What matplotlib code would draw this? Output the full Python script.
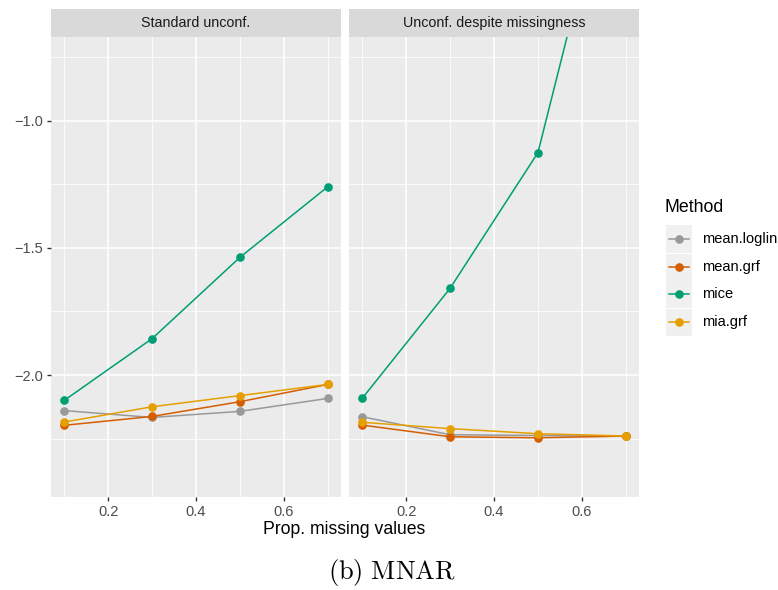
import matplotlib.pyplot as plt
import numpy as np

plt.rcParams['font.family'] = ['Liberation Sans', 'DejaVu Sans']
plt.rcParams['mathtext.fontset'] = 'cm'

# data
prop_missing = [0.1, 0.3, 0.5, 0.7]
methods = ['mean.loglin', 'mean.grf', 'mice', 'mia.grf']
colors = ['#999999', '#D55E00', '#009E73', '#E69F00']
panels = ['Standard unconf.', 'Unconf. despite missingness']

std_loglin = [-2.140, -2.167, -2.143, -2.092]
std_meangrf = [-2.198, -2.163, -2.105, -2.037]
std_mice = [-2.100, -1.857, -1.537, -1.259]
std_miagrf = [-2.185, -2.125, -2.081, -2.037]

unc_loglin = [-2.164, -2.235, -2.238, -2.240]
unc_meangrf = [-2.197, -2.243, -2.247, -2.240]
unc_mice = [-2.092, -1.659, -1.125, 0.25]
unc_miagrf = [-2.186, -2.211, -2.231, -2.240]

panel_data = [
    [std_loglin, std_meangrf, std_mice, std_miagrf],
    [unc_loglin, unc_meangrf, unc_mice, unc_miagrf],
]

W, H = 778, 590
fig = plt.figure(figsize=(W / 100, H / 100), dpi=100)


def rect(l, t, r, b):
    return [l / W, 1 - b / H, (r - l) / W, (b - t) / H]


lefts = [(51, 341), (349, 639)]
for i, (l, r) in enumerate(lefts):
    ax = fig.add_axes(rect(l, 37, r, 497))
    ax.set_facecolor('#EBEBEB')
    for s in ax.spines.values():
        s.set_visible(False)
    ax.set_xlim(0.07, 0.73)
    ax.set_ylim(-2.48, -0.67)
    ax.set_xticks([0.2, 0.4, 0.6])
    ax.set_xticks([0.1, 0.3, 0.5, 0.7], minor=True)
    ax.set_yticks([-2.0, -1.5, -1.0])
    ax.set_yticks([-2.25, -1.75, -1.25, -0.75], minor=True)
    ax.set_xticklabels(['0.2', '0.4', '0.6'])
    ax.grid(which='major', color='white', lw=1.1)
    ax.grid(which='minor', color='white', lw=0.55)
    ax.set_axisbelow(True)
    ax.tick_params(which='major', length=3, width=1, color='#333333',
                   labelsize=10.5, labelcolor='#4D4D4D', pad=3)
    ax.tick_params(which='minor', length=0)
    if i == 0:
        ax.set_yticklabels(['\u22122.0', '\u22121.5', '\u22121.0'])
    else:
        ax.tick_params(axis='y', which='both', length=0, labelleft=False)
    for m, c, ys in zip(methods, colors, panel_data[i]):
        ax.plot(prop_missing, ys, color=c, lw=1.1, marker='o', ms=5.2)

    sax = fig.add_axes(rect(l, 9, r, 37))
    sax.set_facecolor('#D9D9D9')
    sax.set_xticks([])
    sax.set_yticks([])
    for s in sax.spines.values():
        s.set_visible(False)
    sax.text(0.5, 0.5, panels[i], ha='center', va='center', fontsize=10.3,
             color='#1A1A1A', transform=sax.transAxes)

fig.text(344 / W, 1 - 530 / H, 'Prop. missing values', ha='center', va='center',
         fontsize=12.7, color='black')

# legend
fig.text(665 / W, 1 - 208 / H, 'Method', ha='left', va='center', fontsize=12.8)
row_y = [239, 267, 294, 322]
for m, c, yc in zip(methods, colors, row_y):
    kax = fig.add_axes(rect(666, yc - 13.5, 692, yc + 13.5))
    kax.set_facecolor('#F0F0F0')
    kax.set_xlim(0, 1)
    kax.set_ylim(0, 1)
    kax.set_xticks([])
    kax.set_yticks([])
    for s in kax.spines.values():
        s.set_visible(False)
    kax.plot([0.1, 0.9], [0.5, 0.5], color=c, lw=1.1)
    kax.plot([0.5], [0.5], color=c, marker='o', ms=5.2)
    fig.text(702 / W, 1 - yc / H, m, ha='left', va='center', fontsize=10.5)

fig.text(392 / W, 1 - 573 / H, r'$\mathrm{(b)\ MNAR}$', ha='center', va='center',
         fontsize=19)

fig.savefig('out.png', dpi=100)
